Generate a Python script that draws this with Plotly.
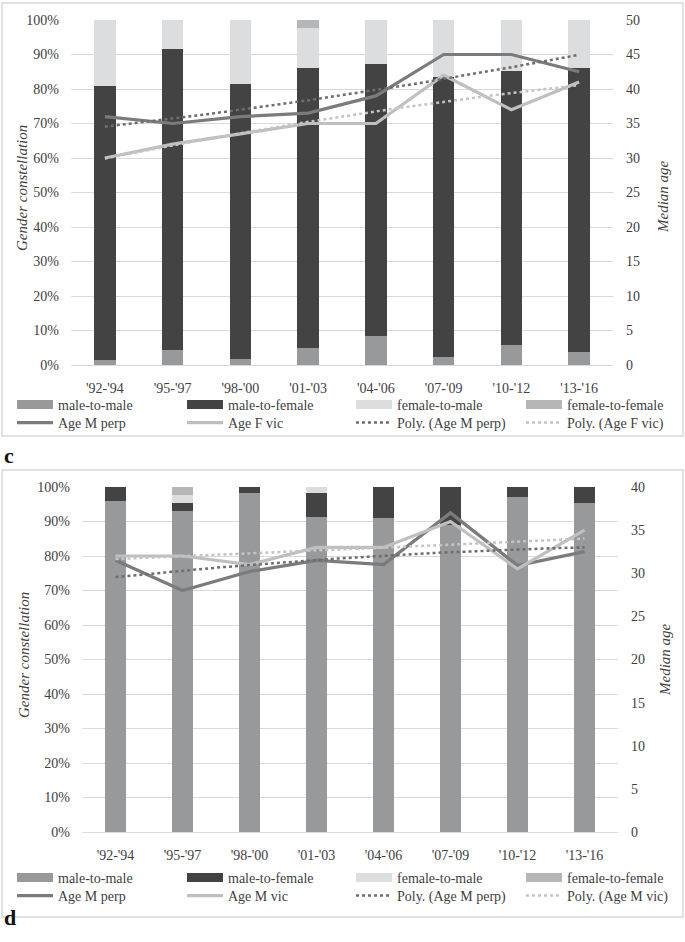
import numpy as np
import plotly.graph_objects as go

W, H = 685, 942

categories = ["'92-'94", "'95-'97", "'98-'00", "'01-'03", "'04-'06", "'07-'09", "'10-'12", "'13-'16"]

# Panel c (female victims): stacked percentages
c_male_to_male = [1.5, 4.3, 1.7, 4.8, 8.4, 2.2, 5.8, 3.8]
c_male_to_female = [79.4, 87.2, 79.7, 81.4, 78.8, 81.4, 79.5, 82.4]
c_female_to_male = [19.1, 8.5, 18.6, 11.6, 12.8, 16.4, 14.7, 13.8]
c_female_to_female = [0, 0, 0, 2.2, 0, 0, 0, 0]
c_age_m_perp = [36.0, 35.0, 36.0, 36.5, 39.0, 45.0, 45.0, 42.5]
c_age_f_vic = [30.0, 32.0, 33.5, 35.0, 35.0, 42.0, 37.0, 41.0]

# Panel d (male victims): stacked percentages
d_male_to_male = [95.9, 93.0, 98.4, 91.4, 91.1, 88.9, 97.1, 95.5]
d_male_to_female = [4.1, 2.4, 1.6, 7.0, 8.9, 11.1, 2.9, 4.5]
d_female_to_male = [0, 2.2, 0, 1.6, 0, 0, 0, 0]
d_female_to_female = [0, 2.4, 0, 0, 0, 0, 0, 0]
d_age_m_perp = [31.5, 28.0, 30.2, 31.5, 31.0, 37.0, 30.9, 32.5]
d_age_m_vic = [32.0, 32.0, 31.0, 33.0, 33.0, 36.0, 30.5, 35.0]

bar_names = ["male-to-male", "male-to-female", "female-to-male", "female-to-female"]

C_BARS = ["#97999b", "#434343", "#dcdddf", "#b5b6b8"]
C_LINE_DARK = "#7b7b7b"
C_LINE_LIGHT = "#bfbfbf"
C_TREND_DARK = "#6e6e6e"
C_TREND_LIGHT = "#c4c4c4"
FONT = "Liberation Serif, Times New Roman, serif"
TXT = "#404040"

xs = list(range(len(categories)))
xfine = np.linspace(0, len(categories) - 1, 80)


def poly_trend(y):
    coeffs = np.polyfit(xs, y, 2)
    return np.polyval(coeffs, xfine)


def py(p):
    return 1 - p / H


fig = go.Figure()
legend_defs = {}
legend_count = [0]
COL_X = [12, 182, 351, 521]


def new_legend(col, top):
    legend_count[0] += 1
    key = "legend" if legend_count[0] == 1 else "legend%d" % legend_count[0]
    legend_defs[key] = dict(orientation="h", x=COL_X[col] / W, xanchor="left", y=py(top),
                            yanchor="top", font=dict(family=FONT, size=14, color=TXT),
                            itemwidth=36, bgcolor="rgba(0,0,0,0)")
    return key


def add_panel(xa, ya, ya2, row1_top, row2_top, stacks, a1, a2, name1, name2):
    bw = 0.32
    for name, vals, col in zip(bar_names, stacks, C_BARS):
        fig.add_trace(go.Bar(x=xs, y=vals, name=name, marker=dict(color=col, line=dict(width=0)),
                             width=bw, xaxis=xa, yaxis=ya, showlegend=False))
    # wide legend keys for the bar series (Excel-style)
    for i, (name, col) in enumerate(zip(bar_names, C_BARS)):
        fig.add_trace(go.Scatter(x=[None], y=[None], name=name, mode="lines",
                                 line=dict(color=col, width=9), xaxis=xa, yaxis=ya,
                                 legend=new_legend(i, row1_top), hoverinfo="skip"))
    fig.add_trace(go.Scatter(x=xs, y=a1, name=name1, mode="lines",
                             line=dict(color=C_LINE_DARK, width=3.2),
                             xaxis=xa, yaxis=ya2, legend=new_legend(0, row2_top)))
    fig.add_trace(go.Scatter(x=xs, y=a2, name=name2, mode="lines",
                             line=dict(color=C_LINE_LIGHT, width=3.2),
                             xaxis=xa, yaxis=ya2, legend=new_legend(1, row2_top)))
    fig.add_trace(go.Scatter(x=xfine, y=poly_trend(a1), name="Poly. (%s)" % name1, mode="lines",
                             line=dict(color=C_TREND_DARK, width=2.5, dash="dot"),
                             xaxis=xa, yaxis=ya2, legend=new_legend(2, row2_top)))
    fig.add_trace(go.Scatter(x=xfine, y=poly_trend(a2), name="Poly. (%s)" % name2, mode="lines",
                             line=dict(color=C_TREND_LIGHT, width=2.5, dash="dot"),
                             xaxis=xa, yaxis=ya2, legend=new_legend(3, row2_top)))


add_panel("x", "y", "y2", 389, 407,
          [c_male_to_male, c_male_to_female, c_female_to_male, c_female_to_female],
          c_age_m_perp, c_age_f_vic, "Age M perp", "Age F vic")
add_panel("x2", "y3", "y4", 862, 880,
          [d_male_to_male, d_male_to_female, d_female_to_male, d_female_to_female],
          d_age_m_perp, d_age_m_vic, "Age M perp", "Age M vic")

top_xdom = [71 / W, 613 / W]
bot_xdom = [82 / W, 618 / W]
top_dom = [py(365), py(20)]
bot_dom = [py(832), py(487)]

tickfont = dict(family=FONT, size=14, color=TXT)

xcommon = dict(tickvals=xs, ticktext=categories, range=[-0.5, 7.5], showgrid=False,
               showline=True, linecolor="#d9d9d9", linewidth=1, ticks="", tickfont=tickfont,
               ticklabelstandoff=10, zeroline=False, automargin=False)
ycommon = dict(range=[0, 100], dtick=10, ticksuffix="%", showgrid=True, gridcolor="#d9d9d9",
               gridwidth=1, zeroline=False, showline=False, tickfont=tickfont, ticks="",
               ticklabelstandoff=11, automargin=False)
y2common = dict(showgrid=False, zeroline=False, showline=False, tickfont=tickfont, ticks="",
                ticklabelstandoff=12, side="right", dtick=5, automargin=False)

fig.update_layout(
    width=W, height=H,
    margin=dict(l=0, r=0, t=0, b=0, autoexpand=False),
    paper_bgcolor="white", plot_bgcolor="white",
    barmode="stack",
    font=dict(family=FONT, color=TXT),
    xaxis=dict(domain=top_xdom, anchor="y", **xcommon),
    yaxis=dict(domain=top_dom, anchor="x", **ycommon),
    yaxis2=dict(overlaying="y", anchor="x", range=[0, 50], **y2common),
    xaxis2=dict(domain=bot_xdom, anchor="y3", **xcommon),
    yaxis3=dict(domain=bot_dom, anchor="x2", **ycommon),
    yaxis4=dict(overlaying="y3", anchor="x2", range=[0, 40], **y2common),
    showlegend=True,
    **legend_defs,
)

# Panel frames
for y0, y1 in [(3, 436), (470, 917)]:
    fig.add_shape(type="rect", xref="paper", yref="paper", x0=2 / W, x1=683 / W,
                  y0=py(y1), y1=py(y0), line=dict(color="#d9d9d9", width=1.5),
                  fillcolor="rgba(0,0,0,0)", layer="below")

# Axis titles
for yl, yr, xl, xr in [(188, 197, 22, 663), (655, 660, 24, 665)]:
    fig.add_annotation(text="<i>Gender constellation</i>", xref="paper", yref="paper",
                       x=xl / W, y=py(yl), xanchor="center", yanchor="middle",
                       textangle=-90, showarrow=False,
                       font=dict(family=FONT, size=15, color=TXT))
    fig.add_annotation(text="<i>Median age</i>", xref="paper", yref="paper",
                       x=xr / W, y=py(yr), xanchor="center", yanchor="middle",
                       textangle=-90, showarrow=False,
                       font=dict(family=FONT, size=15, color=TXT))

# Panel labels
for lab, yc in [("c", 455), ("d", 932)]:
    fig.add_annotation(text="<b>%s</b>" % lab, xref="paper", yref="paper", x=2 / W, y=py(yc),
                       xanchor="left", showarrow=False,
                       font=dict(family=FONT, size=22, color="#111111"))

fig.write_html("out.html", config={"displayModeBar": False},
               post_script="document.body.style.margin='0px';")
